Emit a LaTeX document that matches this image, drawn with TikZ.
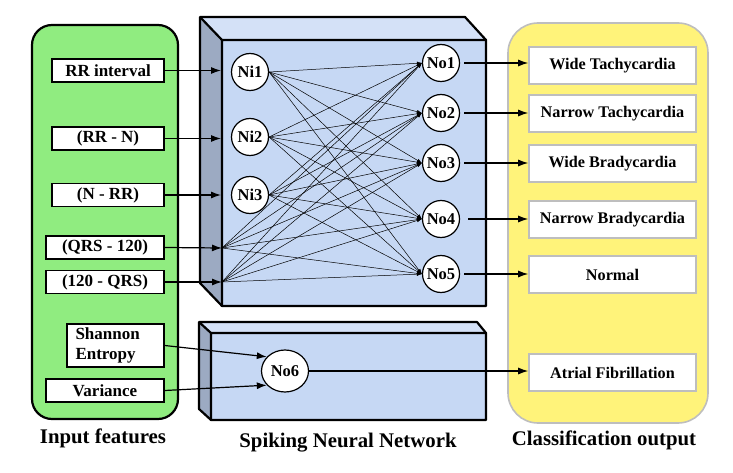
\documentclass[tikz,border=0pt]{standalone}
\usepackage{fontspec}
\setmainfont{Liberation Serif}
\usetikzlibrary{positioning, arrows.meta, shapes.geometric}
\definecolor{featgreen}{RGB}{144,236,128}
\definecolor{outyellow}{RGB}{255,243,122}
\definecolor{snnfront}{RGB}{198,216,244}
\definecolor{snntop}{RGB}{212,225,247}
\definecolor{snnside}{RGB}{156,170,194}
\definecolor{boxgray}{RGB}{190,190,190}

\begin{document}
\begin{tikzpicture}[x=1pt, y=-1pt,
    inbox/.style={draw, line width=1.4pt, fill=white, minimum height=23pt, inner sep=2pt, font=\fontsize{17}{20.5}\selectfont\bfseries},
    outbox/.style={draw=boxgray, line width=1.6pt, fill=white, minimum width=167pt, minimum height=37pt, font=\fontsize{16.2}{19}\selectfont\bfseries},
    neuron/.style={circle, draw, line width=1.2pt, fill=white, minimum size=37pt, inner sep=0pt, font=\fontsize{16.5}{18}\selectfont\bfseries},
    feed/.style={-{Latex[length=10pt,width=7pt]}, line width=1.2pt},
    fan/.style={-{Latex[length=5pt,width=3.5pt]}, line width=0.5pt},
    caption/.style={anchor=base, font=\fontsize{20.8}{24}\selectfont\bfseries}]
    \useasboundingbox (0,0) rectangle (733,473);

    % Input features
    \draw[line width=2.2pt, fill=featgreen, rounded corners=20pt] (32,25) rectangle (178,419);
    \node[inbox, minimum width=112pt] (rr) at (108,70.5) {RR interval};
    \node[inbox, minimum width=112pt] (rrn) at (108,138.5) {(RR - N)};
    \node[inbox, minimum width=112pt] (nrr) at (108,195) {(N - RR)};
    \node[inbox, minimum width=118pt] (qrs) at (105,247.5) {(QRS - 120)};
    \node[inbox, minimum width=118pt] (qrsb) at (105,282) {(120 - QRS)};
    \node[inbox, minimum width=97pt, minimum height=43pt, align=left, text width=80pt] (ent) at (115.5,345.5) {Shannon\\Entropy};
    \node[inbox, minimum width=118pt] (var) at (105,390.5) {Variance};

    % Spiking neural network (top block)
    \fill[snntop] (200,17) -- (465,17) -- (486,40) -- (222,40) -- cycle;
    \fill[snnside] (200,17) -- (222,40) -- (222,306) -- (200,283) -- cycle;
    \fill[snnfront] (222,40) rectangle (486,306);
    \draw[line width=2.2pt, line join=round] (200,17) -- (465,17) -- (486,40) -- (486,306) -- (222,306) -- (200,283) -- cycle;
    \draw[line width=2.2pt] (200,17) -- (222,40) -- (486,40) (222,40) -- (222,306);

    % Spiking neural network (bottom block)
    \fill[snntop] (199,322) -- (477,322) -- (486,333) -- (211,333) -- cycle;
    \fill[snnside] (199,322) -- (211,333) -- (211,420) -- (199,409) -- cycle;
    \fill[snnfront] (211,333) rectangle (486,420);
    \draw[line width=2.2pt, line join=round] (199,322) -- (477,322) -- (486,333) -- (486,420) -- (211,420) -- (199,409) -- cycle;
    \draw[line width=2.2pt] (199,322) -- (211,333) -- (486,333) (211,333) -- (211,420);

    % Classification output
    \draw[boxgray, line width=1.6pt, fill=outyellow, rounded corners=30pt] (508,23) rectangle (708,423);
    \node[outbox] (wt) at (612.5,65.5) {Wide Tachycardia};
    \node[outbox] (nt) at (612.5,113.5) {Narrow Tachycardia};
    \node[outbox] (wb) at (612.5,163.5) {Wide Bradycardia};
    \node[outbox] (nb) at (612.5,219.5) {Narrow Bradycardia};
    \node[outbox] (nor) at (612.5,274.5) {Normal};
    \node[outbox] (af) at (612.5,372.5) {Atrial Fibrillation};

    % Neurons
    \node[neuron] (Ni1) at (250,72) {Ni1};
    \node[neuron] (Ni2) at (250,137) {Ni2};
    \node[neuron] (Ni3) at (250,195) {Ni3};
    \coordinate (s4) at (222,248);
    \coordinate (s5) at (222,282);
    \node[neuron] (No1) at (441,63) {No1};
    \node[neuron] (No2) at (441,113) {No2};
    \node[neuron] (No3) at (441,163) {No3};
    \node[neuron] (No4) at (441,219) {No4};
    \node[neuron] (No5) at (441,274) {No5};
    \node[neuron, ellipse, minimum width=47pt, minimum height=42pt] (No6) at (285,371) {No6};

    % Input arrows
    \coordinate (fl) at (221,0);
    \draw[feed] (rr.east) -- (rr.east -| fl);
    \draw[feed] (rrn.east) -- (rrn.east -| fl);
    \draw[feed] (nrr.east) -- (nrr.east -| fl);
    \draw[feed] (qrs.east) -- (s4);
    \draw[feed] (qrsb.east) -- (s5);
    \draw[feed] (ent.east) -- (No6.142);
    \draw[feed] (var.east) -- (No6.218);

    % Full connections
    \foreach \s in {Ni1.east, Ni2.east, Ni3.east, s4, s5}
        \foreach \t in {No1, No2, No3, No4, No5}
            \draw[fan] (\s) -- (\t.west);

    % Output arrows
    \draw[feed, shorten <=4pt] (No1.east) -- (No1.east -| wt.west);
    \draw[feed, shorten <=4pt] (No2.east) -- (No2.east -| nt.west);
    \draw[feed, shorten <=4pt] (No3.east) -- (No3.east -| wb.west);
    \draw[feed, shorten <=8pt] (No4.east) -- (No4.east -| nb.west);
    \draw[feed, shorten <=4pt] (No5.east) -- (No5.east -| nor.west);
    \draw[feed] (No6.east) -- (No6.east -| af.west);

    % Captions
    \node[caption] (capin) at (103,443) {Input features};
    \node[caption] (capsnn) at (348,447) {Spiking Neural Network};
    \node[caption] (capout) at (604,445) {Classification output};
\end{tikzpicture}
\end{document}
